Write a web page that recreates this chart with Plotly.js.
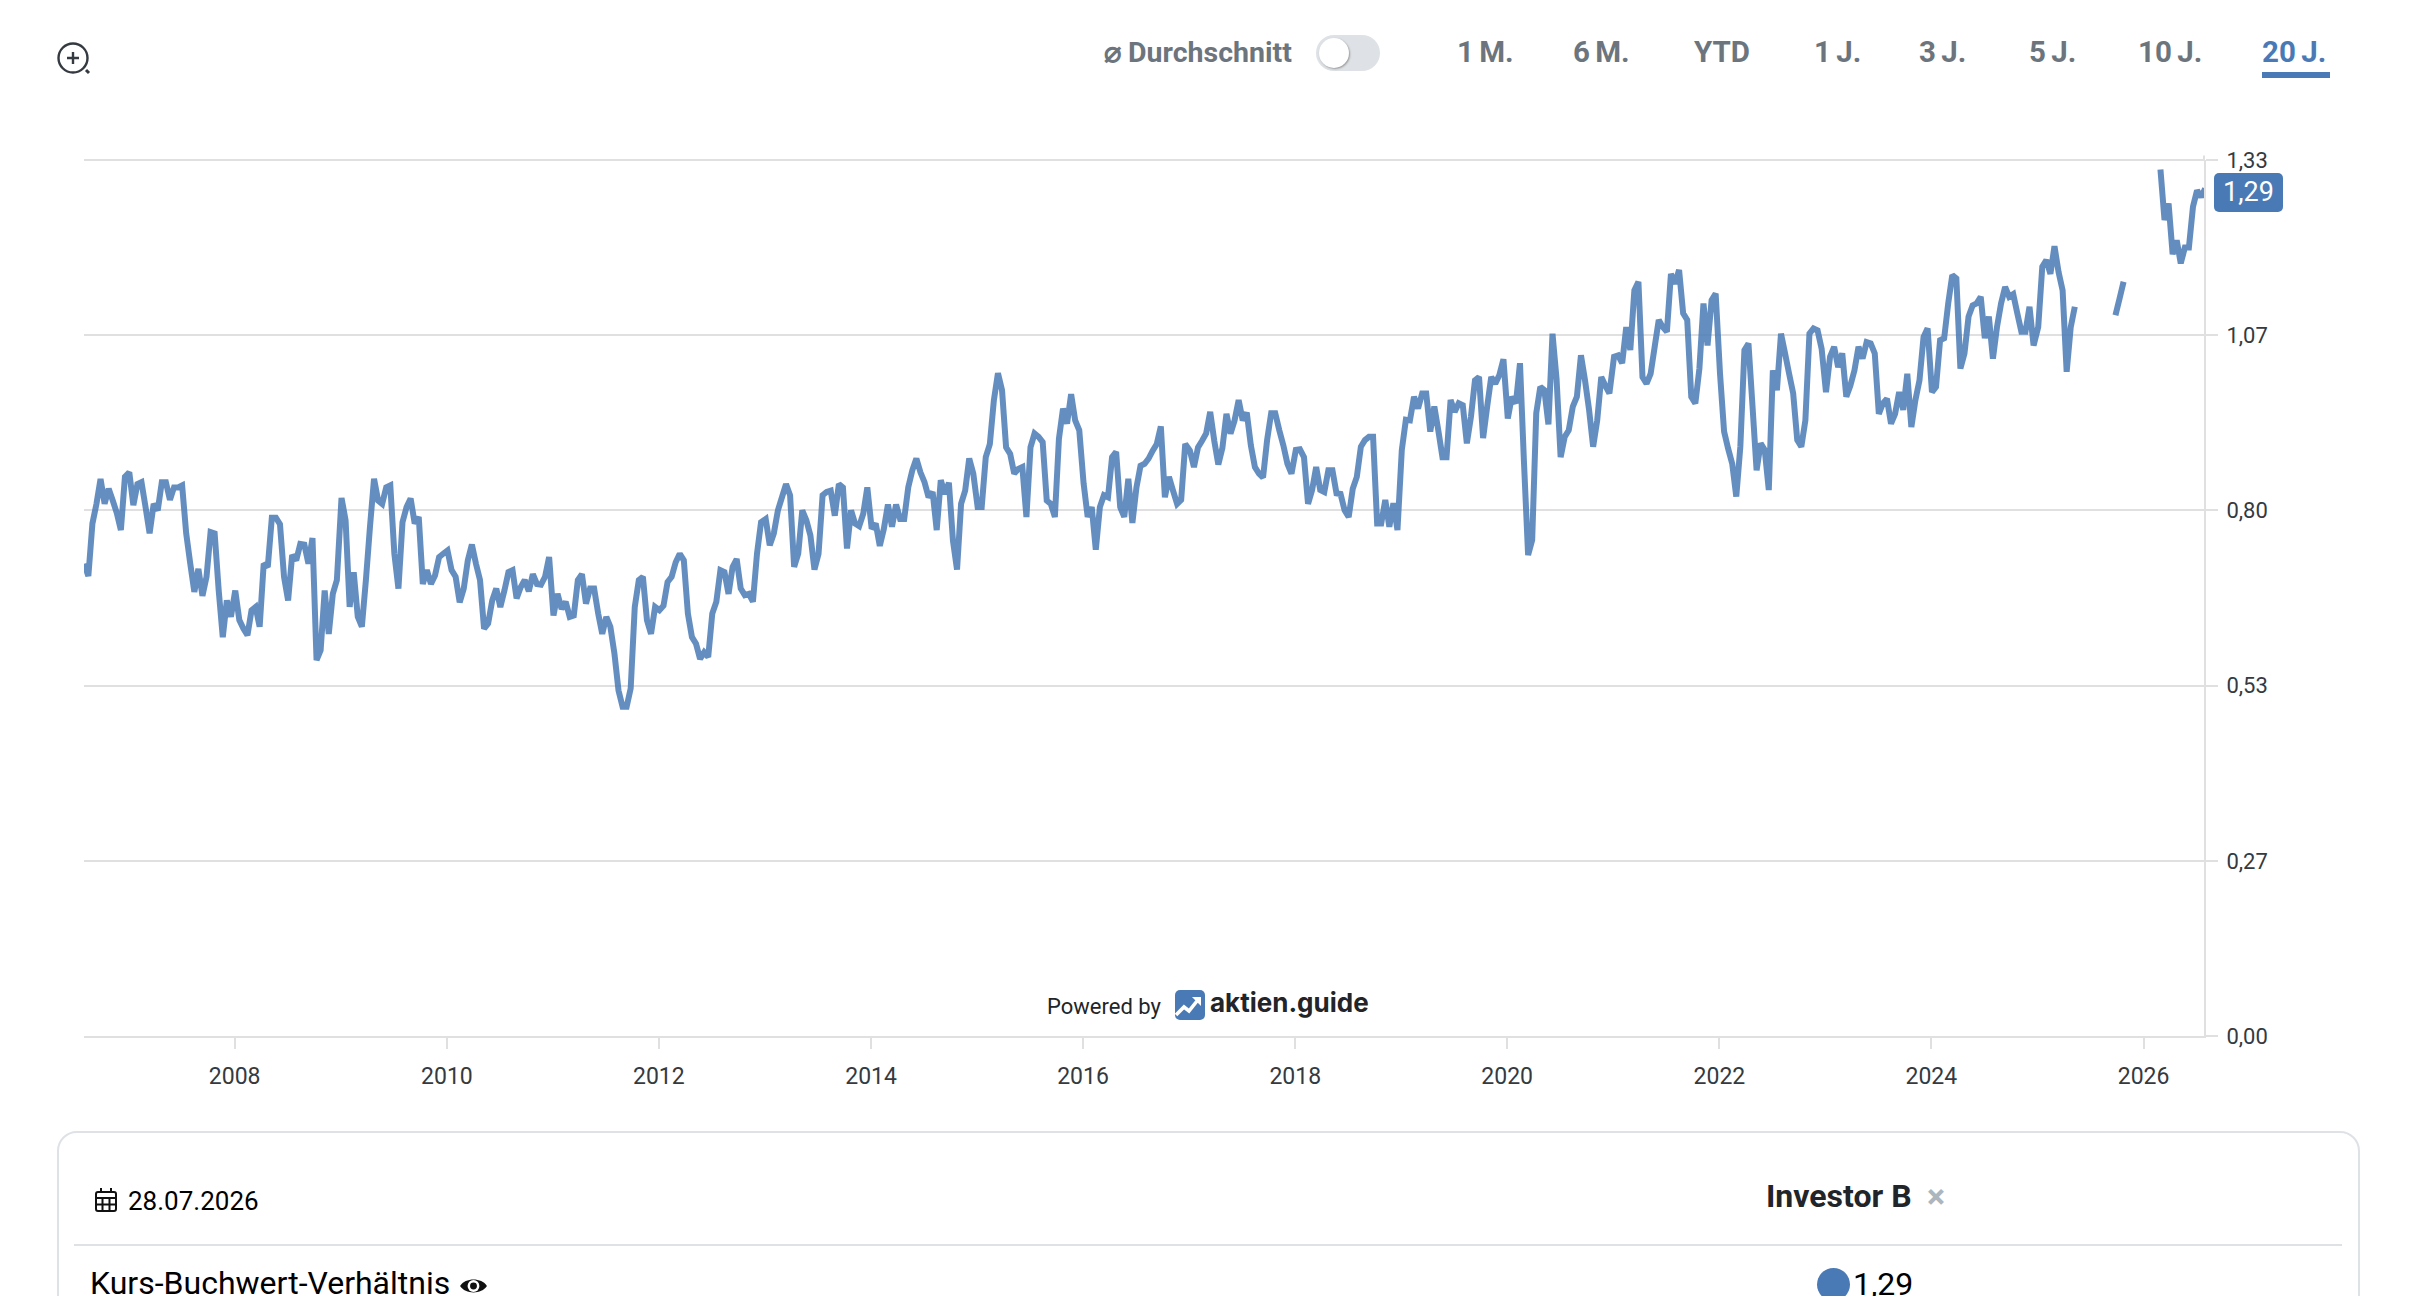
<!DOCTYPE html>
<html lang="de">
<head>
<meta charset="utf-8">
<title>Kurs-Buchwert-Verhältnis</title>
<script src="https://cdn.plot.ly/plotly-3.0.1.min.js"></script>
<style>
  html, body { margin: 0; padding: 0; width: 2417px; height: 1296px; overflow: hidden; background: #fff; font-family: Roboto, sans-serif; }
  #plotDiv { position: absolute; left: 0; top: 0; width: 2417px; height: 1296px; }
  .abs { position: absolute; white-space: nowrap; line-height: 1; }
  .range { top: 38px; font-size: 29.5px; font-weight: 700; word-spacing: -2px; color: #6c757d; }
  .range.active { color: #4a7ab5; }
</style>
</head>
<body>
<div id="plotDiv"></div>

<svg class="abs" style="left:50px;top:36px" width="50" height="46" viewBox="0 0 50 46" fill="none" stroke="#343a40">
  <circle cx="23" cy="22" r="14.5" stroke-width="2.4"/>
  <path d="M17 22h12M23 16v12" stroke-width="2.4"/>
  <path d="M36 34l3 3" stroke-width="3"/>
</svg>

<div class="abs" style="left:1104px;top:39px;font-size:28.5px;font-weight:700;color:#6c757d">⌀ Durchschnitt</div>
<div class="abs" style="left:1316px;top:35px;width:64px;height:36px;border-radius:18px;background:#dee2e6"></div>
<div class="abs" style="left:1319px;top:38px;width:30px;height:30px;border-radius:15px;background:#fff;box-shadow:1px 1px 2px #999"></div>
<div id="rangeBox"></div>
<div class="abs" style="left:2262px;top:72px;width:68px;height:6px;background:#4a7ab5"></div>

<div id="badge" class="abs" style="left:2214px;top:173px;width:69px;height:39px;border-radius:5px;background:#4a7ab5;color:#fff;font-size:27px;line-height:39px;text-align:center"></div>

<div class="abs" style="left:1047px;top:996px;font-size:22px;color:#212529">Powered by</div>
<svg class="abs" style="left:1175px;top:990px" width="30" height="30" viewBox="0 0 30 30">
  <rect width="30" height="30" rx="5" fill="#4a7ab5"/>
  <path d="M1 25l8-8 5 4 8-10" fill="none" stroke="#fff" stroke-width="3.6"/>
  <path d="M17 7h9v9z" fill="#fff"/>
</svg>
<div class="abs" style="left:1210px;top:990px;font-family:Inter,sans-serif;font-size:26px;font-weight:700;color:#212529">aktien.guide</div>

<div class="abs" style="left:57px;top:1131px;width:2299px;height:300px;border:2px solid #dee2e6;border-radius:20px"></div>
<div class="abs" style="left:74px;top:1244px;width:2268px;height:2px;background:#dee2e6"></div>
<svg class="abs" style="left:95px;top:1188px" width="22" height="24" viewBox="0 0 22 24" fill="none" stroke="#111" stroke-width="2">
  <rect x="1" y="4" width="20" height="19" rx="2"/>
  <path d="M1 10h20M1 16.500h20M7.500 10v13M14.500 10v13M6 0v5M16 0v5"/>
</svg>
<div class="abs" style="left:128px;top:1188px;font-size:26px;color:#000">28.07.2026</div>
<div class="abs" style="left:1766px;top:1180px;font-size:32px;font-weight:700;color:#212529">Investor B</div>
<div class="abs" style="left:1927px;top:1179px;font-size:34px;font-weight:700;color:#adb5bd">×</div>
<div class="abs" style="left:90px;top:1267px;font-size:32px;color:#000">Kurs-Buchwert-Verhältnis</div>
<svg class="abs" style="left:459px;top:1275px" width="29" height="22" viewBox="0 0 27 20">
  <path d="M1 10C6 2 21 2 26 10C21 18 6 18 1 10Z" fill="#111"/>
  <circle cx="13.500" cy="10" r="5.500" fill="#fff"/>
  <circle cx="13.500" cy="10" r="3.200" fill="#111"/>
</svg>
<div class="abs" style="left:1817px;top:1268px;width:33px;height:33px;border-radius:17px;background:#4a7ab5"></div>
<div id="lastLabel" class="abs" style="left:1853px;top:1268px;font-size:32px;color:#000"></div>

<script>
// Kurs-Buchwert-Verhaeltnis, ein Wert alle 14 Tage ab dem 3. Januar je Jahr
var kbv2006 = [null,null,null,null,null,null,null,null,null,null,null,null,null,null,null,
  0.719,0.70,0.78,0.81,0.848,0.81,0.833,0.815,0.796,0.77,0.851];
var kbv2007 = [0.858,0.808,0.84,0.843,0.805,0.765,0.81,0.80,0.843,0.843,0.816,0.835,0.835,
  0.838,0.765,0.719,0.676,0.711,0.67,0.699,0.767,0.765,0.678,0.607,0.663,0.638];
var kbv2008 = [0.678,0.633,0.62,0.61,0.648,0.653,0.623,0.719,0.714,0.789,0.789,0.779,0.699,
  0.663,0.732,0.724,0.749,0.748,0.719,0.758,0.572,0.587,0.678,0.612,0.673,0.694];
var kbv2009 = [0.819,0.785,0.653,0.706,0.638,0.623,0.694,0.775,0.848,0.815,0.81,0.835,0.838,
  0.734,0.681,0.782,0.805,0.818,0.78,0.79,0.688,0.709,0.688,0.701,0.729,0.734];
var kbv2010 = [0.739,0.709,0.699,0.66,0.681,0.724,0.748,0.719,0.694,0.62,0.628,0.663,0.681,
  0.653,0.678,0.706,0.709,0.666,0.683,0.694,0.677,0.703,0.688,0.687,0.699,0.729];
var kbv2011 = [0.64,0.673,0.65,0.661,0.638,0.64,0.694,0.703,0.658,0.681,0.681,0.643,0.612,
  0.638,0.623,0.582,0.526,0.501,0.501,0.529,0.653,0.694,0.699,0.633,0.612,0.653];
var kbv2012 = [0.648,0.655,0.691,0.699,0.721,0.734,0.724,0.643,0.607,0.597,0.574,0.584,0.577,
  0.643,0.661,0.709,0.706,0.673,0.714,0.726,0.681,0.671,0.673,0.661,0.734,0.782];
var kbv2013 = [0.787,0.747,0.765,0.80,0.82,0.84,0.823,0.714,0.734,0.80,0.785,0.762,0.71,
  0.734,0.823,0.828,0.83,0.792,0.84,0.835,0.742,0.80,0.78,0.776,0.795,0.835];
var kbv2014 = [0.772,0.78,0.746,0.772,0.809,0.775,0.809,0.787,0.787,0.835,0.861,0.879,0.858,
  0.843,0.82,0.828,0.77,0.846,0.825,0.842,0.754,0.71,0.81,0.83,0.879,0.856];
var kbv2015 = [0.805,0.805,0.881,0.901,0.968,1.009,0.983,0.896,0.886,0.856,0.863,0.866,0.79,
  0.896,0.917,0.912,0.904,0.815,0.81,0.79,0.909,0.955,0.932,0.977,0.937,0.922];
var kbv2016 = [0.841,0.79,0.805,0.74,0.805,0.823,0.82,0.881,0.889,0.805,0.79,0.848,0.781,
  0.835,0.868,0.871,0.879,0.891,0.901,0.928,0.82,0.851,0.83,0.81,0.816,0.901];
var kbv2017 = [0.891,0.866,0.896,0.906,0.917,0.95,0.906,0.87,0.895,0.947,0.917,0.937,0.968,
  0.937,0.949,0.899,0.866,0.856,0.85,0.907,0.948,0.948,0.922,0.899,0.871,0.856];
var kbv2018 = [0.892,0.893,0.881,0.81,0.831,0.866,0.831,0.828,0.861,0.861,0.826,0.825,0.80,
  0.79,0.833,0.851,0.897,0.907,0.912,0.912,0.78,0.78,0.816,0.775,0.811,0.77];
var kbv2019 = [0.892,0.938,0.937,0.973,0.955,0.978,0.978,0.92,0.958,0.921,0.881,0.881,0.968,
  0.95,0.963,0.96,0.902,0.942,0.998,1.003,0.91,0.958,1.003,0.993,1.006,1.03];
var kbv2020 = [0.94,0.973,0.963,1.024,0.871,0.732,0.755,0.948,0.988,0.983,0.931,1.069,1.0,
  0.881,0.912,0.922,0.958,0.973,1.036,0.998,0.953,0.897,0.937,1.003,0.99,0.978];
var kbv2021 = [1.034,1.036,1.024,1.079,1.044,1.135,1.148,1.003,0.993,1.008,1.049,1.09,1.079,
  1.072,1.16,1.145,1.166,1.1,1.09,0.973,0.963,1.016,1.115,1.051,1.12,1.13];
var kbv2022 = [1.008,0.92,0.894,0.871,0.821,0.897,1.044,1.054,0.958,0.861,0.902,0.892,0.831,
  1.013,0.983,1.069,1.039,1.008,0.978,0.907,0.897,0.937,1.069,1.077,1.074,1.046];
var kbv2023 = [0.98,1.034,1.049,1.018,1.039,0.973,0.99,1.013,1.049,1.031,1.056,1.054,1.039,
  0.947,0.963,0.97,0.932,0.947,0.98,0.953,1.008,0.927,0.968,0.998,1.064,1.077];
var kbv2024 = [0.98,0.988,1.059,1.062,1.115,1.158,1.153,1.016,1.039,1.095,1.112,1.115,1.125,
  1.062,1.095,1.031,1.079,1.115,1.14,1.125,1.129,1.1,1.072,1.072,1.11,1.051];
var kbv2025 = [1.079,1.171,1.181,1.16,1.202,1.163,1.135,1.011,1.079,1.11,null,null,null,
  null,null,null,null,null,null,1.097,1.122,1.148,null,null,null,null];
var kbv2026 = [null,null,null,null,1.319,1.242,1.267,1.19,1.211,1.176,1.2,1.2,1.262,
  1.287,1.277,1.29];

var kbvByYear = [kbv2006,kbv2007,kbv2008,kbv2009,kbv2010,kbv2011,kbv2012,kbv2013,kbv2014,kbv2015,
  kbv2016,kbv2017,kbv2018,kbv2019,kbv2020,kbv2021,kbv2022,kbv2023,kbv2024,kbv2025,kbv2026];
var firstYear = 2006;

var xTickVals = ['2008-01-01','2010-01-01','2012-01-01','2014-01-01','2016-01-01',
  '2018-01-01','2020-01-01','2022-01-01','2024-01-01','2026-01-01'];
var xTickText = ['2008','2010','2012','2014','2016','2018','2020','2022','2024','2026'];
var yTickVals = [0, 0.26667, 0.53333, 0.8, 1.06667, 1.33333];
var yTickText = ['0,00','0,27','0,53','0,80','1,07','1,33'];
var rangeLabels = ['1 M.','6 M.','YTD','1 J.','3 J.','5 J.','10 J.','20 J.'];
var rangeLeft = [1457,1573,1694,1814,1919,2029,2138,2262];
var lastValue = '1,29';

function makeDates(){
  var dates = [];
  var values = [];
  for(var i=0; i<kbvByYear.length; i++){
    var yearVals = kbvByYear[i];
    for(var k=0; k<yearVals.length; k++){
      var d = new Date(Date.UTC(firstYear+i, 0, 3+14*k));
      dates.push(d.toISOString().slice(0,10));
      values.push(yearVals[k]);
    }
  }
  return [dates, values];
}

function makePlot(){
  var series = makeDates();

  var trace1 = {
    x: series[0],
    y: series[1],
    mode: 'lines',
    type: 'scatter',
    connectgaps: false,
    opacity: 0.85,
    line: {color: '#4a7ab5', width: 6, shape: 'linear', simplify: false}
  };

  var layout = {
    width: 2417,
    height: 1296,
    margin: {l: 84, r: 213, t: 160, b: 260, pad: 0},
    paper_bgcolor: '#fff',
    plot_bgcolor: '#fff',
    showlegend: false,
    font: {family: 'Roboto, sans-serif', color: '#343a40'},
    xaxis: {
      type: 'date',
      range: ['2006-07-31','2026-07-28'],
      tickmode: 'array',
      tickvals: xTickVals,
      ticktext: xTickText,
      ticks: 'outside',
      ticklen: 11,
      tickwidth: 2,
      tickcolor: '#e0e0e0',
      tickfont: {size: 23, color: '#343a40'},
      ticklabelstandoff: 7,
      showgrid: false,
      showline: true,
      linecolor: '#e0e0e0',
      linewidth: 2,
      zeroline: false
    },
    yaxis: {
      side: 'right',
      range: [0, 1.33333],
      tickmode: 'array',
      tickvals: yTickVals,
      ticktext: yTickText,
      ticks: 'outside',
      ticklen: 12,
      tickwidth: 2,
      tickcolor: '#e0e0e0',
      tickfont: {size: 22, color: '#343a40'},
      ticklabelstandoff: 4,
      showgrid: true,
      gridcolor: '#e0e0e0',
      gridwidth: 2,
      showline: true,
      linecolor: '#e0e0e0',
      linewidth: 2,
      zeroline: false
    },
    shapes: [
      // Plotly laesst die oberste Gitterlinie am Achsenende weg
      {type: 'line', xref: 'paper', yref: 'paper', x0: 0, x1: 1, y0: 1, y1: 1,
        layer: 'below', line: {color: '#e0e0e0', width: 2}},
      {type: 'line', xref: 'paper', yref: 'paper', x0: 1, x1: 1, y0: 1, y1: 1.005,
        line: {color: '#e0e0e0', width: 2}}
    ]
  };

  Plotly.newPlot('plotDiv', [trace1], layout, {displayModeBar: false, staticPlot: true});
}

function makeControls(){
  var box = document.getElementById('rangeBox');
  for(var i=0; i<rangeLabels.length; i++){
    var el = document.createElement('div');
    el.className = 'abs range' + (i==rangeLabels.length-1 ? ' active' : '');
    el.style.left = rangeLeft[i] + 'px';
    el.textContent = rangeLabels[i];
    box.appendChild(el);
  }
  document.getElementById('badge').textContent = lastValue;
  document.getElementById('lastLabel').textContent = lastValue;
}

makePlot();
makeControls();
</script>
</body>
</html>
